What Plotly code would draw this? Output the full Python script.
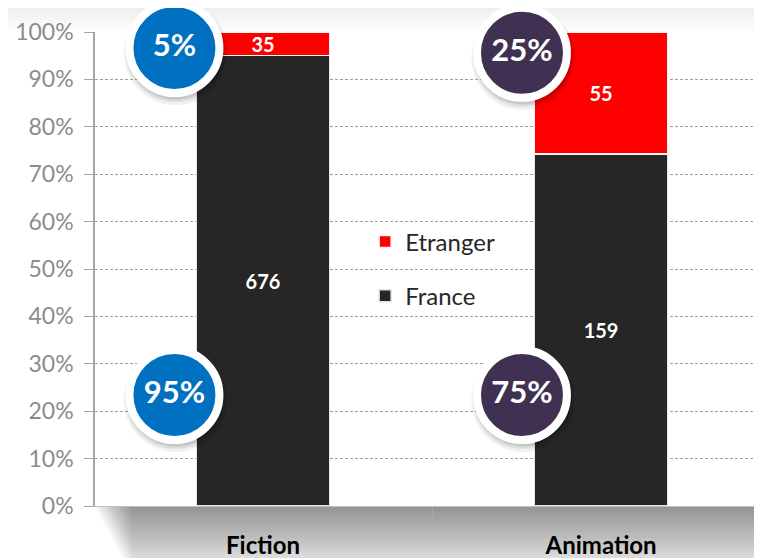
import plotly.graph_objects as go

categories = ["Fiction", "Animation"]
france = [676, 159]
etranger = [35, 55]
share_etranger = ["5%", "25%"]
share_france = ["95%", "75%"]
badge_colors = ["#0070C0", "#403152"]

FONT = "Lato"
W, H = 762, 558
OFF = 8  # default page body margin offset compensation
ML, MT = 95 - OFF, 32 - OFF
MR = OFF
MB = H - (506 - OFF)
PH = H - MT - MB
PW = W - ML - MR
XR = [-0.497, 1.476]

fig = go.Figure()

fig.add_bar(
    x=categories, y=france, name="France", legendgroup="f", legendrank=2,
    marker=dict(color="#262626", line=dict(color="#e4e4e4", width=1.5)),
    text=[f"<b>{v}</b>" for v in france], textposition="inside", textangle=0,
    insidetextanchor="middle", textfont=dict(color="white", size=20, family=FONT),
    width=0.394, hoverinfo="skip",
)
fig.add_bar(
    x=categories, y=etranger, name="Etranger", legendgroup="e", legendrank=1,
    marker=dict(color="#FF0000", line=dict(color="#f4f4f4", width=1.5)),
    text=[f"<b>{v}</b>" for v in etranger], textposition="inside", textangle=0,
    insidetextanchor="middle", textfont=dict(color="white", size=20, family=FONT),
    width=0.394, hoverinfo="skip",
)

# badge positions (offsets from category index, y level)
x_off = [-0.262, -0.234]
y_top = [0.966, 0.956]
y_bot = [0.234, 0.234]
bx, by, btxt, bcol = [], [], [], []
for i in range(len(categories)):
    bx += [i + x_off[i], i + x_off[i]]
    by += [y_top[i], y_bot[i]]
    btxt += [f"<b>{share_etranger[i]}</b>", f"<b>{share_france[i]}</b>"]
    bcol += [badge_colors[i], badge_colors[i]]

px2y = 1.0 / PH
for s, a, dy in [(104, 0.06, 5), (100, 0.08, 4), (97, 0.10, 3)]:
    fig.add_scatter(
        x=[v + 0.004 for v in bx], y=[v - dy * px2y for v in by], xaxis="x2",
        mode="markers", marker=dict(size=s, color=f"rgba(0,0,0,{a})", line=dict(width=0)),
        showlegend=False, hoverinfo="skip", cliponaxis=False,
    )
fig.add_scatter(
    x=bx, y=by, xaxis="x2", mode="markers+text",
    marker=dict(size=90, color=bcol, line=dict(color="white", width=8)),
    text=btxt, textposition="middle center",
    textfont=dict(color="white", size=31, family=FONT),
    showlegend=False, hoverinfo="skip", cliponaxis=False,
)

# soft shadow under plot area
shapes = []
N = 24
for k in range(N):
    d = 3 + k * (67 / (N - 1))
    shapes.append(dict(
        type="rect", xref="paper", yref="paper", layer="below",
        x0=(k * 1.6) / PW, x1=1.0 + OFF / PW, y0=0, y1=-d / PH,
        fillcolor="rgba(0,0,0,0.019)", line=dict(width=0),
    ))
# faint halo on top
for k in range(8):
    d = 3 + k * 3
    shapes.append(dict(
        type="rect", xref="paper", yref="paper", layer="below",
        x0=-0.15, x1=1.0 + OFF / PW, y0=1 + (MT - d) / PH, y1=1 + MT / PH,
        fillcolor="rgba(0,0,0,0.007)", line=dict(width=0),
    ))

fig.update_layout(
    width=W, height=H,
    margin=dict(l=ML, r=MR, t=MT, b=MB, autoexpand=False),
    paper_bgcolor="white", plot_bgcolor="white",
    barmode="stack", barnorm="fraction",
    font=dict(family=FONT, color="#262626"),
    uniformtext=dict(minsize=20, mode="show"),
    shapes=shapes,
    xaxis=dict(
        type="category", range=XR, showgrid=False, zeroline=False, automargin=False,
        showline=True, linecolor="#bfbfbf", linewidth=1,
        ticks="outside", tickson="boundaries", ticklen=10, tickcolor="#a6a6a6",
        tickfont=dict(size=24, color="black", family=FONT, weight="bold"),
        ticklabelstandoff=18,
    ),
    xaxis2=dict(overlaying="x", range=XR, visible=False, fixedrange=True),
    yaxis=dict(
        range=[0, 1], tickvals=[i / 10 for i in range(11)], tickformat=".0%",
        automargin=False,
        showgrid=True, gridcolor="#a0a0a0", griddash="3px,2px", gridwidth=1,
        zeroline=False, showline=True, linecolor="#a6a6a6", linewidth=1.5,
        ticks="outside", ticklen=9, tickcolor="#a6a6a6",
        tickfont=dict(size=23, color="#8c8c8c", family=FONT),
        ticklabelstandoff=6,
    ),
    legend=dict(
        x=0.405, y=0.5, xanchor="left", yanchor="middle",
        traceorder="grouped", tracegroupgap=20, itemwidth=30,
        font=dict(size=24, color="#262626", family=FONT),
        bgcolor="rgba(0,0,0,0)",
    ),
    showlegend=True,
)

fig.write_html("out.html")
